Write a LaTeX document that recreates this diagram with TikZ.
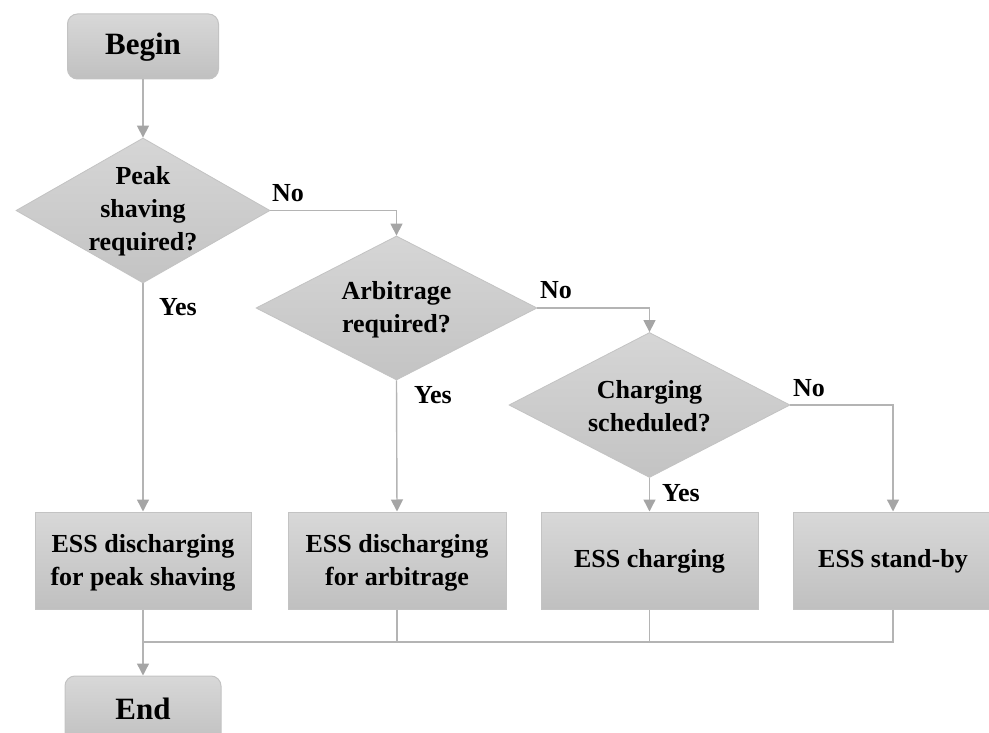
\documentclass[tikz,border=0pt]{standalone}
\usepackage{fontspec}
\setmainfont{Liberation Serif}
\usetikzlibrary{shapes.geometric,arrows.meta}
\definecolor{linegray}{RGB}{180,180,180}
\definecolor{tipgray}{RGB}{165,165,165}
\definecolor{edgegray}{RGB}{195,195,195}
\definecolor{filltop}{RGB}{216,216,216}
\definecolor{fillbot}{RGB}{192,192,192}
\tikzset{
  txt/.style={font=\fontsize{26}{33}\selectfont\bfseries, align=center, text=black},
  bigtxt/.style={font=\fontsize{31}{36}\selectfont\bfseries, align=center, text=black},
  lbl/.style={font=\fontsize{26}{30}\selectfont\bfseries, text=black, inner sep=0pt},
  termbox/.style={draw=edgegray, line width=1pt, rounded corners=10pt, top color=filltop, bottom color=fillbot,
    minimum width=151pt, minimum height=65pt, inner sep=0pt},
  procbox/.style={draw=edgegray, line width=1pt, top color=filltop, bottom color=fillbot,
    minimum height=97pt, inner sep=0pt},
  dia/.style={diamond, draw=edgegray, line width=0.8pt, top color=filltop!90!fillbot, bottom color=fillbot!95!white,
    minimum width=254pt, minimum height=145pt, inner sep=0pt},
  conn/.style={draw=linegray, line width=1.4pt},
  arr/.style={conn, -{Triangle[width=12pt,length=12pt,fill=tipgray,color=tipgray]}},
}
\begin{document}
\begin{tikzpicture}[x=1pt,y=-1pt]
\useasboundingbox (0,0) rectangle (989,733);
\clip (0,0) rectangle (989,733);
% terminals
\node[termbox] (begin) at (143,46.5) {};
\node[bigtxt] (begint) at (143,47) {Begin};
\node[termbox, minimum width=156pt, minimum height=68pt] (end) at (143,710) {};
\node[bigtxt] (endt) at (143,709) {End};
% decisions
\node[dia] (d1) at (143,210.5) {};
\node[txt] (d1t) at (143,211) {Peak\\shaving\\required?};
\node[dia, minimum width=281pt, minimum height=144pt] (d2) at (396.5,308) {};
\node[txt] (d2t) at (396.5,310) {Arbitrage\\required?};
\node[dia, minimum width=281pt, minimum height=145pt] (d3) at (649.5,405) {};
\node[txt] (d3t) at (649.5,406) {Charging\\scheduled?};
% process boxes
\node[procbox, minimum width=216pt] (b1) at (143,560.5) {};
\node[txt] (b1t) at (143,563) {ESS discharging\\for peak shaving};
\node[procbox, minimum width=218pt] (b2) at (397,560.5) {};
\node[txt] (b2t) at (397,563) {ESS discharging\\for arbitrage};
\node[procbox, minimum width=217pt] (b3) at (649.5,560.5) {};
\node[txt] (b3t) at (649.5,561) {ESS charging};
\node[procbox, minimum width=200pt] (b4) at (893,560.5) {};
\node[txt] (b4t) at (893,561) {ESS stand-by};
% labels
\node[lbl] (no1) at (288,193) {No};
\node[lbl] (yes1) at (178,307) {Yes};
\node[lbl] (no2) at (556,290) {No};
\node[lbl] (yes2) at (433,395) {Yes};
\node[lbl] (no3) at (809,388) {No};
\node[lbl] (yes3) at (681,493) {Yes};
% connectors
\draw[arr] (begin.south) -- (d1.north);
\draw[arr] (d1.east) -| (d2.north);
\draw[arr] (d2.east) -| (d3.north);
\draw[arr] (d3.east) -| (b4.north);
\draw[arr] (d1.south) -- (b1.north);
\draw[arr] (d2.south) -- (b2.north);
\draw[arr] (d3.south) -- (b3.north);
\coordinate (j) at (143,642);
\draw[conn] (b4.south) |- (j);
\draw[conn] (b2.south) -- (b2.south |- j);
\draw[conn] (b3.south) -- (b3.south |- j);
\draw[arr] (b1.south) -- (end.north);
\end{tikzpicture}
\end{document}
